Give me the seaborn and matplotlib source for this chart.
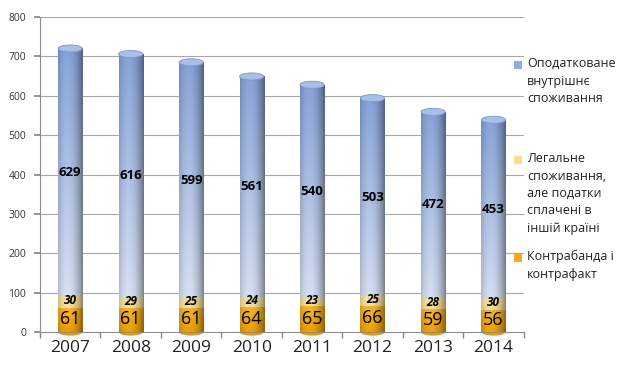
import numpy as np
import pandas as pd
import matplotlib
matplotlib.use("Agg")
import matplotlib.pyplot as plt
from matplotlib.patches import Ellipse, Rectangle
from matplotlib.colors import to_rgb
import seaborn as sns

years = ["2007", "2008", "2009", "2010", "2011", "2012", "2013", "2014"]
taxed = [629, 616, 599, 561, 540, 503, 472, 453]
legal_abroad = [30, 29, 25, 24, 23, 25, 28, 30]
contraband = [61, 61, 61, 64, 65, 66, 59, 56]
series_names = ["Оподатковане\nвнутрішнє\nспоживання",
                "Легальне\nспоживання,\nале податки\nсплачені в\nіншій країні",
                "Контрабанда і\nконтрафакт"]
y_ticks = [0, 100, 200, 300, 400, 500, 600, 700, 800]

sns.set_theme(style="white")
plt.rcParams["font.family"] = ["Open Sans", "DejaVu Sans"]

df = pd.DataFrame({"year": years, "taxed": taxed, "legal": legal_abroad, "contra": contraband})
df["lvl1"] = df["contra"]
df["lvl2"] = df["contra"] + df["legal"]
df["lvl3"] = df["lvl2"] + df["taxed"]

fig = plt.figure(figsize=(6.25, 3.69), dpi=100)
ax = fig.add_axes([0.064, 0.100, 0.774, 0.854])

BAR_W = 0.40
layers = [
    ("lvl3", "#87a3d8", "#e2e9f6", 2),
    ("lvl2", "#f7e4a2", "#efd37c", 3),
    ("lvl1", "#f8b62a", "#eea000", 4),
]

def shade(patch, top_c, bot_c, z):
    x0, y0 = patch.get_x(), patch.get_y()
    w, h = patch.get_width(), patch.get_height()
    nx, ny = 64, 64
    xs = np.linspace(0, 1, nx)
    prof = 1 - 0.42 * ((xs - 0.38) / 0.62) ** 2
    prof = np.clip(prof, 0.55, 1.0)
    t = np.linspace(0, 1, ny)[:, None, None]
    top = np.array(to_rgb(top_c))[None, None, :]
    bot = np.array(to_rgb(bot_c))[None, None, :]
    col = bot + (top - bot) * t
    img = np.clip(col * prof[None, :, None], 0, 1)
    im = ax.imshow(img, extent=[x0, x0 + w, y0, y0 + h], origin="lower",
                   aspect="auto", zorder=z, interpolation="bilinear")
    im.set_clip_path(patch)

for col, top_c, bot_c, z in layers:
    n_before = len(ax.patches)
    sns.barplot(data=df, x="year", y=col, order=years, color=top_c,
                width=BAR_W, ax=ax, zorder=z, edgecolor="none", errorbar=None)
    for p in ax.patches[n_before:]:
        shade(p, top_c, bot_c, z + 0.1)

# cylinder caps
cap_h = 18
for i, tot in enumerate(df["lvl3"]):
    ax.add_patch(Ellipse((i, tot), BAR_W, cap_h, facecolor="#a9bfe8",
                         edgecolor="#7c97c9", lw=0.6, zorder=5))
    ax.add_patch(Ellipse((i, 0), BAR_W, cap_h, facecolor="#e99c00",
                         edgecolor="none", zorder=1.5, clip_on=False))

# value labels
for i in range(len(years)):
    ax.text(i, df["lvl2"][i] + taxed[i] / 2, str(taxed[i]), ha="center", va="center",
            fontsize=9.5, fontweight="bold", color="black", zorder=6)
    ax.text(i, df["lvl1"][i] + legal_abroad[i] / 2 + 3, str(legal_abroad[i]), ha="center",
            va="center", fontsize=8.5, fontweight="bold", fontstyle="italic",
            color="black", zorder=6)
    ax.text(i, contraband[i] / 2 + 2, str(contraband[i]), ha="center", va="center",
            fontsize=13, color="black", zorder=6)

ax.set_xlim(-0.5, len(years) - 0.5)
ax.set_ylim(0, 800)
ax.set_yticks(y_ticks)
ax.set_yticklabels([str(v) for v in y_ticks], fontsize=7.5, color="#333333")
ax.set_xticks(range(len(years)))
ax.set_xticklabels(years, fontsize=12.5, color="#222222")
ax.set_xticks(np.arange(-0.5, len(years), 1), minor=True)
ax.tick_params(axis="x", which="major", length=0, pad=6)
ax.tick_params(axis="x", which="minor", length=4, color="#888888", direction="out", bottom=True)
ax.tick_params(axis="y", length=4, color="#888888", direction="out", left=True, pad=6)
ax.set_xlabel("")
ax.set_ylabel("")
for y in y_ticks[1:]:
    ax.axhline(y, color="#a6a6a6", lw=0.8, zorder=0.5)
for s in ["top", "right"]:
    ax.spines[s].set_visible(False)
for s in ["left", "bottom"]:
    ax.spines[s].set_color("#8c8c8c")
    ax.spines[s].set_linewidth(0.8)

# legend (manual, right side)
leg_colors = ["#92acdc", "#f6df92", "#f4a81c"]
leg_y = [65, 160, 258]
for name, c, yp in zip(series_names, leg_colors, leg_y):
    fy = 1 - yp / 369
    fig.patches.append(Rectangle((514 / 625, fy - 4 / 369), 8 / 625, 8 / 369,
                                 transform=fig.transFigure, facecolor=c,
                                 edgecolor="none"))
    fig.text(527 / 625, fy + 8 / 369, name, ha="left", va="top", fontsize=9,
             color="#222222", linespacing=1.45)

fig.savefig("out.png", dpi=100)
